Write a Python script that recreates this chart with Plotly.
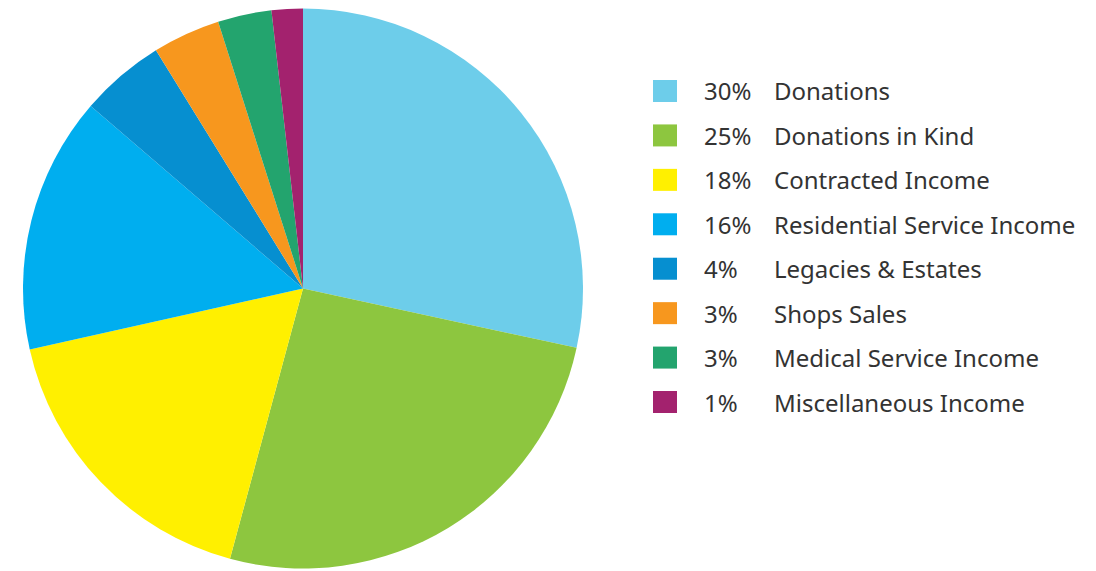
import plotly.graph_objects as go

categories = ["Donations", "Donations in Kind", "Contracted Income",
              "Residential Service Income", "Legacies & Estates", "Shops Sales",
              "Medical Service Income", "Miscellaneous Income"]
values = [28.4, 25.8, 17.3, 14.8, 4.9, 3.9, 3.1, 1.8]
pct_labels = ["30%", "25%", "18%", "16%", "4%", "3%", "3%", "1%"]
colors = ["#6DCDEA", "#8DC63F", "#FFF000", "#00AEEF", "#068FD0",
          "#F7971E", "#23A46E", "#A3226E"]

W, H = 1096, 571
OFF = 8  # page body margin


def px(x):
    return (x - OFF) / W


def py(y):
    return 1 - (y - OFF) / H


fig = go.Figure(go.Pie(
    labels=categories, values=values, sort=False, direction="clockwise",
    rotation=0, marker=dict(colors=colors, line=dict(width=0)),
    textinfo="none", hoverinfo="label+percent", showlegend=False,
    domain=dict(x=[px(23), px(583)], y=[py(568.5), py(8.5)]),
))

font = dict(family="Noto Sans, sans-serif", size=24, color="#333333")
row0, step = 91, 44.43
for i, (name, pct, col) in enumerate(zip(categories, pct_labels, colors)):
    yc = row0 + i * step
    fig.add_shape(type="rect", xref="paper", yref="paper",
                  x0=px(653), x1=px(677), y0=py(yc - 11), y1=py(yc + 11),
                  fillcolor=col, line=dict(width=0))
    fig.add_annotation(xref="paper", yref="paper", x=px(702), y=py(yc),
                       text=pct, showarrow=False, xanchor="left", yanchor="middle",
                       font=font)
    fig.add_annotation(xref="paper", yref="paper", x=px(772), y=py(yc),
                       text=name, showarrow=False, xanchor="left", yanchor="middle",
                       font=font)

fig.update_layout(width=W, height=H, margin=dict(l=0, r=0, t=0, b=0),
                  paper_bgcolor="white", plot_bgcolor="white")
fig.write_html("out.html")
